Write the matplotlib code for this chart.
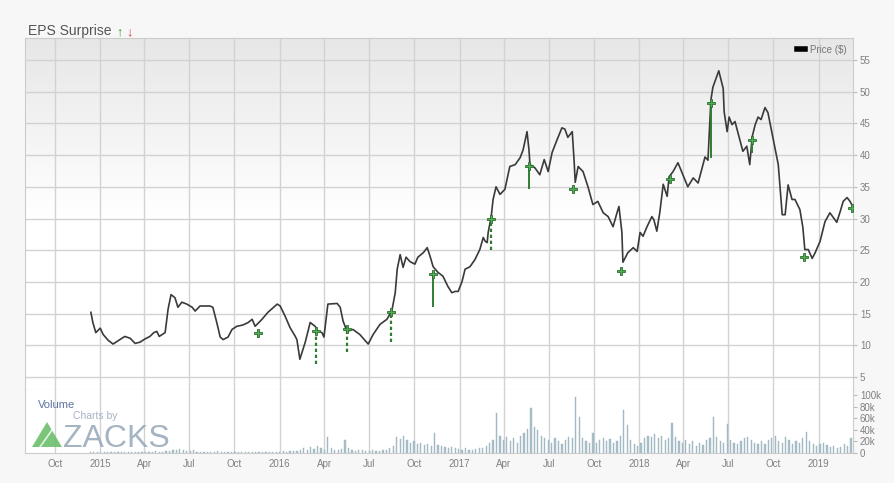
import numpy as np
import pandas as pd
import matplotlib
matplotlib.use('Agg')
import matplotlib.pyplot as plt
from matplotlib.patches import Polygon

plt.rcParams['font.family'] = ['Liberation Sans', 'DejaVu Sans']

# --- datos ---
price_dates = ['2014-12-13', '2014-12-17', '2014-12-23', '2015-01-01', '2015-01-07', '2015-01-17', '2015-01-27',
               '2015-02-06', '2015-02-20', '2015-03-03', '2015-03-13', '2015-03-23', '2015-04-02', '2015-04-12',
               '2015-04-20', '2015-04-26', '2015-05-01', '2015-05-13', '2015-05-19', '2015-05-25', '2015-06-02',
               '2015-06-08', '2015-06-16', '2015-06-26', '2015-07-07', '2015-07-13', '2015-07-23', '2015-08-12',
               '2015-08-18', '2015-08-26', '2015-09-02', '2015-09-08', '2015-09-18', '2015-09-26', '2015-10-06',
               '2015-10-18', '2015-10-29', '2015-11-06', '2015-11-12', '2015-11-26', '2015-12-08', '2015-12-27',
               '2016-01-02', '2016-01-12', '2016-01-22', '2016-02-01', '2016-02-05', '2016-02-11', '2016-02-22',
               '2016-03-03', '2016-03-13', '2016-03-19', '2016-03-27', '2016-03-31', '2016-04-08', '2016-04-27',
               '2016-05-03', '2016-05-09', '2016-05-17', '2016-05-29', '2016-06-12', '2016-06-29', '2016-07-09',
               '2016-07-23', '2016-08-06', '2016-08-16', '2016-08-23', '2016-08-27', '2016-09-02', '2016-09-08',
               '2016-09-14', '2016-09-22', '2016-10-02', '2016-10-08', '2016-10-19', '2016-10-27', '2016-11-02',
               '2016-11-08', '2016-11-18', '2016-11-28', '2016-12-08', '2016-12-16', '2016-12-23', '2016-12-29',
               '2017-01-06', '2017-01-12', '2017-01-22', '2017-02-01', '2017-02-11', '2017-02-18', '2017-02-22',
               '2017-02-26', '2017-02-28', '2017-03-06', '2017-03-10', '2017-03-16', '2017-03-24', '2017-04-03',
               '2017-04-13', '2017-04-24', '2017-05-04', '2017-05-10', '2017-05-18', '2017-05-22', '2017-05-24',
               '2017-06-03', '2017-06-13', '2017-06-22', '2017-06-30', '2017-07-08', '2017-07-18', '2017-07-28',
               '2017-08-03', '2017-08-09', '2017-08-18', '2017-08-22', '2017-08-24', '2017-08-30', '2017-09-09',
               '2017-09-19', '2017-09-29', '2017-10-09', '2017-10-20', '2017-10-30', '2017-11-09', '2017-11-17',
               '2017-11-21', '2017-11-27', '2017-11-29', '2017-12-09', '2017-12-20', '2017-12-28', '2018-01-03',
               '2018-01-09', '2018-01-17', '2018-01-27', '2018-01-31', '2018-02-06', '2018-02-12', '2018-02-19',
               '2018-02-27', '2018-03-03', '2018-03-11', '2018-03-21', '2018-03-31', '2018-04-10', '2018-04-21',
               '2018-05-01', '2018-05-15', '2018-05-21', '2018-05-27', '2018-05-31', '2018-06-12', '2018-06-21',
               '2018-06-23', '2018-06-29', '2018-07-03', '2018-07-09', '2018-07-15', '2018-07-25', '2018-07-31',
               '2018-08-08', '2018-08-14', '2018-08-19', '2018-08-25', '2018-08-31', '2018-09-06', '2018-09-14',
               '2018-09-20', '2018-09-30', '2018-10-11', '2018-10-19', '2018-10-25', '2018-10-31', '2018-11-08',
               '2018-11-14', '2018-11-24', '2018-11-30', '2018-12-04', '2018-12-11', '2018-12-19', '2018-12-25',
               '2019-01-04', '2019-01-14', '2019-01-24', '2019-02-07', '2019-02-14', '2019-02-20', '2019-02-28',
               '2019-03-06', '2019-03-12']
price_values = [15.2, 13.6, 12.0, 12.7, 11.7, 10.8, 10.2, 10.7, 11.4, 11.1, 10.3, 10.5, 11.0, 11.4,
                12.0, 12.2, 11.4, 12.0, 15.7, 18.0, 17.5, 16.0, 16.8, 16.5, 16.0, 15.4, 16.2, 16.2,
                16.0, 13.6, 11.3, 10.9, 11.3, 12.5, 13.0, 13.2, 13.6, 14.1, 13.0, 14.1, 15.2, 16.5,
                16.2, 14.6, 12.8, 11.5, 10.9, 7.8, 10.5, 13.6, 13.0, 12.2, 12.0, 11.3, 16.5, 16.6,
                16.0, 13.8, 12.2, 12.5, 11.7, 10.2, 11.7, 13.3, 14.1, 15.4, 18.3, 22.0, 24.3, 22.3,
                23.9, 23.2, 22.8, 23.9, 24.6, 25.4, 24.0, 22.4, 21.5, 20.9, 19.3, 18.3, 18.5, 18.5,
                20.1, 22.0, 22.4, 23.5, 25.1, 27.0, 26.4, 26.2, 27.8, 30.2, 33.0, 35.0, 33.8, 34.6,
                38.2, 38.5, 39.6, 40.8, 43.7, 40.8, 38.5, 38.0, 36.9, 39.3, 37.4, 40.4, 42.4, 44.3,
                44.1, 42.8, 43.7, 38.8, 35.7, 38.2, 37.4, 35.0, 32.2, 32.7, 30.9, 30.3, 28.7, 30.9,
                31.9, 27.8, 23.1, 24.6, 25.4, 24.8, 27.8, 27.2, 28.7, 30.3, 29.8, 28.0, 30.9, 35.4,
                33.5, 36.6, 37.4, 38.8, 36.9, 35.0, 36.4, 35.6, 39.7, 39.2, 48.7, 50.7, 53.3, 50.5,
                46.8, 43.7, 46.0, 44.8, 45.3, 42.4, 40.6, 41.4, 38.5, 42.9, 44.8, 46.0, 45.6, 47.5,
                46.7, 42.8, 38.5, 30.6, 30.6, 35.3, 33.0, 33.0, 31.4, 28.6, 25.1, 25.1, 23.7, 24.6,
                26.4, 29.5, 30.9, 29.4, 31.1, 32.7, 33.3, 32.7, 31.8]

# sorpresas EPS (todas positivas): fecha, precio del marcador, extremo inferior de la línea
eps_dates = ['2015-11-18', '2016-03-15', '2016-05-17', '2016-08-14', '2016-11-08', '2017-03-06', '2017-05-22',
             '2017-08-20', '2017-11-25', '2018-03-05', '2018-05-27', '2018-08-19', '2018-12-02', '2019-03-10']
eps_price = [12.0, 12.2, 12.5, 15.2, 21.2, 30.0, 38.3, 34.7, 21.7, 36.3, 48.2, 42.4, 23.9, 31.7]
eps_low = [11.2, 7.0, 8.9, 10.5, 16.1, 25.1, 34.6, 34.7, 21.7, 36.3, 39.6, 40.3, 23.9, 31.7]

# volumen semanal (miles), a partir del 2014-12-12
volume_start = '2014-12-12'
volume_k = [2, 1, 1, 2, 1, 1, 2, 1, 2, 1, 1, 2, 1, 1, 2, 2, 1, 1, 2, 3, 2, 2, 3, 4, 6, 5, 7, 6, 4,
            3, 5, 2, 1, 1, 1, 2, 1, 3, 1, 1, 2, 1, 1, 1, 2, 1, 1, 2, 1, 2, 1, 2, 1, 2, 2,
            2, 3, 2, 3, 4, 3, 5, 8, 6, 10, 7, 12, 9,
            6, 28, 8, 5, 6, 7, 22, 9, 5, 4, 6, 5, 4,
            4, 5, 3, 4, 6, 5, 8, 12, 28, 24, 30, 22, 18,
            20, 15, 18, 14, 16, 12, 34, 14, 12, 10, 9, 11, 8,
            7, 6, 8, 5, 6, 7, 9, 8, 12, 18, 22, 69, 30,
            22, 28, 20, 25, 18, 30, 35, 42, 78, 45, 40, 30, 25,
            22, 18, 25, 20, 15, 22, 28, 26, 97, 62, 25, 20, 18,
            34, 18, 22, 25, 20, 24, 18, 20, 30, 74, 48, 22, 15,
            12, 18, 25, 30, 28, 32, 26, 30, 22, 25, 52, 28, 20,
            18, 22, 15, 20, 12, 18, 14, 22, 25, 62, 28, 20, 18,
            50, 22, 18, 15, 20, 25, 28, 22, 18, 15, 20, 16, 22,
            25, 30, 20, 18, 28, 22, 15, 20, 18, 25, 36, 20, 15,
            12, 15, 18, 14, 10, 12, 8, 10, 15, 12, 25]

xtick_dates = ['2014-10-01', '2015-01-01', '2015-04-01', '2015-07-01', '2015-10-01', '2016-01-01',
               '2016-04-01', '2016-07-01', '2016-10-01', '2017-01-01', '2017-04-01', '2017-07-01',
               '2017-10-01', '2018-01-01', '2018-04-01', '2018-07-01', '2018-10-01', '2019-01-01']
xtick_labels = ['Oct', '2015', 'Apr', 'Jul', 'Oct', '2016', 'Apr', 'Jul', 'Oct', '2017', 'Apr', 'Jul',
                'Oct', '2018', 'Apr', 'Jul', 'Oct', '2019']
price_ticks = [5, 10, 15, 20, 25, 30, 35, 40, 45, 50, 55]
vol_ticks = [0, 20, 40, 60, 80, 100]
vol_tick_labels = ['0', '20k', '40k', '60k', '80k', '100k']

# --- figura ---
W, H = 894, 483
fig = plt.figure(figsize=(W / 100, H / 100), dpi=100, facecolor='#f7f7f7')
left, right = 25 / W, 853 / W
pos_price = [left, 1 - 390 / H, right - left, 352 / H]
pos_vol = [left, 1 - 453 / H, right - left, 63 / H]

# fondo con degradado gris en la parte alta (fila 0 = arriba)
bg = fig.add_axes(pos_price, zorder=0)
t = np.linspace(0, 1, 200)
g = 0.905 + 0.095 * np.clip(t / 0.5, 0, 1)
bg.imshow(np.dstack([g, g, g]).reshape(200, 1, 3), aspect='auto', extent=[0, 1, 0, 1])
bg.set_axis_off()

ax = fig.add_axes(pos_price, zorder=1)
ax.set_facecolor('none')
axv = fig.add_axes(pos_vol, sharex=ax, zorder=1)
axv.set_facecolor('white')

grid_col = '#d2d2d2'
xt = pd.to_datetime(xtick_dates)
x0, x1 = pd.Timestamp('2014-08-01'), pd.Timestamp('2019-03-12')

pd_dates = pd.to_datetime(price_dates)
ax.plot(pd_dates, price_values, color='#3a3a3a', lw=1.2, zorder=3)

# marcadores EPS
ed = pd.to_datetime(eps_dates)
dashed = {1, 2, 3, 5}
for i, d in enumerate(ed):
    if eps_low[i] < eps_price[i]:
        ax.vlines(d, eps_low[i], eps_price[i], color='#2f7d32',
                  lw=1.4 if i not in dashed else 1.6,
                  linestyles=(0, (1.5, 1.2)) if i in dashed else 'solid', zorder=4)
ax.plot(ed, eps_price, ls='none', marker='P', ms=5.5, mfc='#4caf50', mec='#2e6b30', mew=0.6, zorder=5)

ax.set_xlim(x0, x1)
ax.set_ylim(2.95, 58.47)
ax.set_xticks(xt)
ax.set_yticks(price_ticks)
ax.grid(True, color=grid_col, lw=1)
ax.tick_params(axis='x', length=0, labelbottom=False)
ax.yaxis.tick_right()
ax.tick_params(axis='y', length=3, pad=2, colors='#bbbbbb', labelcolor='#808080', labelsize=7)
for s in ax.spines.values():
    s.set_color('#cccccc')

ax.plot([], [], color='black', lw=4, label='Price ($)')
leg = ax.legend(loc='upper right', frameon=False, fontsize=7, handlelength=0.8,
                borderaxespad=0.3, handletextpad=0.5)
for txt in leg.get_texts():
    txt.set_color('#777777')

# volumen
vd = pd.date_range(volume_start, periods=len(volume_k), freq='7D')
axv.bar(vd, volume_k, width=2.5, color='#a9bfca', edgecolor='#9cb3bf', lw=0.3, zorder=3)
axv.set_ylim(0, 108.6)
axv.set_yticks(vol_ticks)
axv.set_yticklabels(vol_tick_labels)
axv.yaxis.tick_right()
axv.tick_params(axis='y', length=3, pad=2, colors='#bbbbbb', labelcolor='#808080', labelsize=7)
axv.set_xticks(xt)
axv.set_xticklabels(xtick_labels)
axv.tick_params(axis='x', length=0, pad=4, labelsize=7, labelcolor='#808080')
axv.grid(True, axis='x', color=grid_col, lw=1)
for s in axv.spines.values():
    s.set_color('#cccccc')
axv.spines['top'].set_visible(False)

# textos
fig.text(28 / W, 1 - 35 / H, 'EPS Surprise', fontsize=10, color='#555555', va='baseline')
fig.text(116 / W, 1 - 35 / H, '\u2191', fontsize=9, color='#3a9a3a', va='baseline', fontweight='bold')
fig.text(126 / W, 1 - 35 / H, '\u2193', fontsize=9, color='#d04040', va='baseline', fontweight='bold')

# marca de agua Zacks
fig.text(38 / W, 1 - 408 / H, 'Volume', fontsize=8, color='#5d73a0', va='baseline', zorder=6)
fig.text(73 / W, 1 - 419 / H, 'Charts by', fontsize=7.5, color='#a5b4c6', va='baseline', zorder=6)
tri = Polygon([(32 / W, 1 - 447 / H), (62 / W, 1 - 447 / H), (47 / W, 1 - 422 / H)],
              closed=True, transform=fig.transFigure, facecolor='#6cbf6c', edgecolor='none', zorder=6,
              alpha=0.9)
fig.patches.append(tri)
fig.lines.append(plt.Line2D([40 / W, 52 / W], [1 - 447 / H, 1 - 430 / H], transform=fig.transFigure,
                            color='white', lw=1.2, alpha=0.8, zorder=7))
fig.text(63 / W, 1 - 447 / H, 'ZACKS', fontsize=23, color='#95a7b8', va='baseline', alpha=0.85, zorder=6)

fig.savefig('out.png', dpi=100, facecolor=fig.get_facecolor())
